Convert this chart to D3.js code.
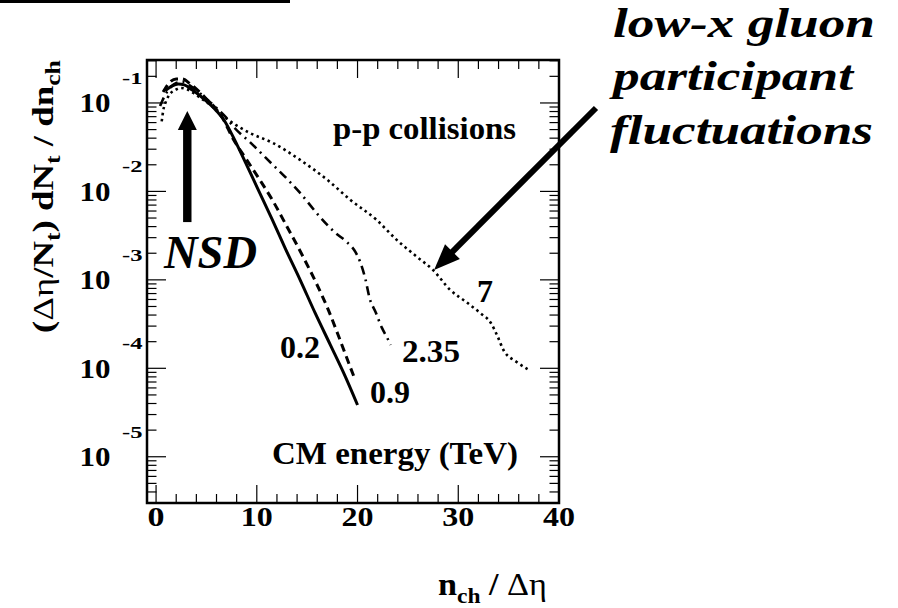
<!DOCTYPE html>
<html>
<head>
<meta charset="utf-8">
<script src="https://cdn.jsdelivr.net/npm/d3@7"></script>
<style>
  body { margin: 0; background: #fff; }
  text { font-family: "Liberation Serif", "Times New Roman", "DejaVu Serif", serif; font-weight: bold; fill: #000; }
</style>
</head>
<body>
<svg id="chart" width="898" height="608"></svg>
<script>
// Multiplicity distributions for p-p collisions at several CM energies
const xTickValues = [0, 10, 20, 30, 40];
const yDecadeExponents = [-1, -2, -3, -4, -5];
const energyLabels = ["0.2", "0.9", "2.35", "7"];

// 0.2 TeV (solid)
const n02 = [0.9, 1.6, 2.2, 2.8, 3.6, 4.4, 5.2, 6.0, 6.8, 7.5, 8.8, 10.1, 11.5, 12.8, 14.3, 15.8, 17.3, 18.8, 20.0];
const p02 = [0.137, 0.156, 0.164, 0.160, 0.140, 0.120, 0.100, 0.0813, 0.0625, 0.0447, 0.0221, 0.0107, 0.0049, 0.0023, 0.00100, 4.2e-4, 1.84e-4, 8.0e-5, 3.85e-5];

// 0.9 TeV (dashed)
const n09 = [0.7, 1.4, 2.0, 2.6, 3.4, 4.2, 5.0, 5.8, 6.6, 7.6, 9.0, 10.3, 11.6, 12.8, 14.6, 15.9, 17.1, 18.0, 18.9, 19.65];
const p09 = [0.133, 0.173, 0.187, 0.187, 0.164, 0.137, 0.111, 0.090, 0.0676, 0.0402, 0.0227, 0.0135, 0.0078, 0.0044, 0.00182, 9.2e-4, 4.57e-4, 2.51e-4, 1.34e-4, 8.0e-5];

// 2.35 TeV (dash-dot)
const n235 = [0.4, 0.9, 1.4, 2.0, 2.6, 3.4, 4.2, 5.0, 5.9, 6.9, 7.8, 9.3, 11.1, 13.1, 14.3, 16.3, 17.8, 18.9, 19.8, 20.3, 20.8, 21.2, 21.8, 22.4, 22.9, 23.3];
const p235 = [0.0925, 0.123, 0.148, 0.168, 0.173, 0.156, 0.133, 0.111, 0.090, 0.0695, 0.0521, 0.0362, 0.0227, 0.0135, 0.0096, 0.0051, 0.0034, 0.0027, 0.00206, 0.00155, 1.0e-3, 6.2e-4, 4.3e-4, 2.9e-4, 2.26e-4, 1.84e-4];

// 7 TeV (dotted)
const n7 = [0.56, 0.72, 1.0, 1.4, 1.9, 2.4, 3.0, 3.7, 4.4, 5.4, 6.3, 7.9, 9.3, 11.6, 14.3, 17.0, 19.3, 21.9, 23.9, 25.9, 27.5, 29.2, 30.9, 32.2, 33.2, 33.9, 34.5, 35.8, 37.0];
const p7 = [0.062, 0.083, 0.105, 0.127, 0.140, 0.148, 0.144, 0.130, 0.114, 0.095, 0.077, 0.0564, 0.0458, 0.0353, 0.0227, 0.0135, 0.0080, 0.00475, 0.00282, 0.00182, 0.00129, 7.7e-4, 5.5e-4, 4.2e-4, 3.3e-4, 2.3e-4, 1.6e-4, 1.18e-4, 9.6e-5];

const svg = d3.select("#chart");

const xDomain = [-0.9, 40];
const yDomain = [3e-6, 0.306];
const x = d3.scaleLinear().domain(xDomain).range([147, 559]);
const y = d3.scaleLog().domain(yDomain).range([503, 60]);

const [x0, x1] = x.range();
const [yb, yt] = y.range();

// separator bar at top
svg.append("rect").attr("x", 0).attr("y", 0).attr("width", 290).attr("height", 3).attr("fill", "#000");

svg.append("defs").append("clipPath").attr("id", "plotClip")
  .append("rect").attr("x", x0).attr("y", yt).attr("width", x1 - x0).attr("height", yb - yt);

// ---- curves ----
const series = [
  { n: n02, p: p02, dash: null, w: 3 },
  { n: n09, p: p09, dash: "8,5", w: 3 },
  { n: n235, p: p235, dash: "9,5,2,5", w: 2.6 },
  { n: n7, p: p7, dash: "2.5,3.5", w: 2.6 }
];
const line = d3.line().x(d => x(d[0])).y(d => y(d[1])).curve(d3.curveMonotoneX);
const curves = svg.append("g").attr("clip-path", "url(#plotClip)");
series.forEach(s => {
  curves.append("path")
    .attr("d", line(d3.zip(s.n, s.p)))
    .attr("fill", "none")
    .attr("stroke", "#000")
    .attr("stroke-width", s.w)
    .attr("stroke-dasharray", s.dash)
    .attr("stroke-linejoin", "round");
});

// ---- ticks on all four sides ----
const ticks = svg.append("g").attr("stroke", "#000").attr("stroke-width", 1.2);
const yTicks = [];
for (let d = -7; d <= 0; d++) {
  for (let m = 1; m <= 9; m++) {
    const v = m * Math.pow(10, d);
    if (v >= yDomain[0] && v <= yDomain[1]) yTicks.push({ v, major: m === 1 });
  }
}
yTicks.forEach(t => {
  const len = t.major ? 19 : 9.5;
  const py = y(t.v);
  ticks.append("line").attr("x1", x0).attr("x2", x0 + len).attr("y1", py).attr("y2", py);
  ticks.append("line").attr("x1", x1).attr("x2", x1 - len).attr("y1", py).attr("y2", py);
});
d3.range(0, 41, 2).forEach(v => {
  const len = v % 10 === 0 ? 18 : 9;
  const px = x(v);
  ticks.append("line").attr("x1", px).attr("x2", px).attr("y1", yb).attr("y2", yb - len);
  ticks.append("line").attr("x1", px).attr("x2", px).attr("y1", yt).attr("y2", yt + len);
});

// frame
svg.append("rect").attr("x", x0).attr("y", yt).attr("width", x1 - x0).attr("height", yb - yt)
  .attr("fill", "none").attr("stroke", "#000").attr("stroke-width", 2.5);

// ---- text helper: fixed drawn width ----
function label(str, px, py, size, width, italic) {
  const t = svg.append("text").attr("x", px).attr("y", py)
    .style("font-size", size + "px").text(str);
  if (italic) t.style("font-style", "italic");
  if (width) t.attr("textLength", width).attr("lengthAdjust", "spacingAndGlyphs");
  return t;
}

// x tick labels
xTickValues.forEach(v => {
  const w = v === 0 ? 17 : 32;
  label(String(v), x(v) - w / 2, 526, 27, w);
});

// y tick labels 10^k
yDecadeExponents.forEach(k => {
  const py = y(Math.pow(10, k));
  label("10", 79.5, py + 9.5, 27, 31);
  label(String(k), 122, py - 19, 17, 20.5);
});

// ---- axis titles ----
function fitText(textSel, target) {
  const w = textSel.node().getComputedTextLength();
  textSel.attr("transform", `scale(${target / w},1)`);
}

const yTitleG = svg.append("g").attr("transform", "translate(53,333) rotate(-90)");
const yTitle = yTitleG.append("text").attr("x", 0).attr("y", 0).style("font-size", "30px");
yTitle.append("tspan").text("(");
yTitle.append("tspan").style("font-weight", "normal").text("Δη");
yTitle.append("tspan").text("/N");
yTitle.append("tspan").attr("dy", 7).style("font-size", "21px").text("t");
yTitle.append("tspan").attr("dy", -7).text(") dN");
yTitle.append("tspan").attr("dy", 7).style("font-size", "21px").text("t");
yTitle.append("tspan").attr("dy", -7).text(" / dn");
yTitle.append("tspan").attr("dy", 7).style("font-size", "21px").text("ch");
fitText(yTitle, 273);

const xTitleG = svg.append("g").attr("transform", "translate(438,595)");
const xTitle = xTitleG.append("text").attr("x", 0).attr("y", 0).style("font-size", "32px");
xTitle.append("tspan").text("n");
xTitle.append("tspan").attr("dy", 8).style("font-size", "22px").text("ch");
xTitle.append("tspan").attr("dy", -8).text(" / ");
xTitle.append("tspan").style("font-weight", "normal").text("Δη");
fitText(xTitle, 109);

// ---- annotations inside the frame ----
label("p-p collisions", 333, 139, 32, 183);
label("CM energy (TeV)", 272, 464, 32, 246);
label(energyLabels[0], 280, 358, 32, 40);
label(energyLabels[1], 370, 403, 32, 40);
label(energyLabels[2], 402, 362, 32, 58);
label(energyLabels[3], 477, 302, 32, 16);
label("NSD", 164, 268, 46, 93, true);

// NSD arrow (vertical, pointing at the peak)
const nsdX = x(3.1);
const nsdTip = y(0.081), nsdBase = y(0.0045);
const headLen = 19, headHalf = 9.5;
svg.append("rect").attr("x", nsdX - 4.2).attr("y", nsdTip + headLen - 1)
  .attr("width", 8.4).attr("height", nsdBase - nsdTip - headLen + 1).attr("fill", "#000");
svg.append("path")
  .attr("d", `M${nsdX},${nsdTip} L${nsdX - headHalf},${nsdTip + headLen} L${nsdX + headHalf},${nsdTip + headLen} Z`)
  .attr("fill", "#000");

// gluon-fluctuation arrow, tip on the 7 TeV curve
const gTipX = x(27.6), gTipY = y(0.00129);
const gTailX = 596, gTailY = 108;
const dx = gTipX - gTailX, dy = gTipY - gTailY, L = Math.hypot(dx, dy);
const ux = dx / L, uy = dy / L;
const gHead = 26, gHalf = 10.5;
const bx = gTipX - ux * gHead, by = gTipY - uy * gHead;
svg.append("line").attr("x1", gTailX).attr("y1", gTailY).attr("x2", bx + ux * 2).attr("y2", by + uy * 2)
  .attr("stroke", "#000").attr("stroke-width", 6);
svg.append("path")
  .attr("d", `M${gTipX},${gTipY} L${bx - uy * gHalf},${by + ux * gHalf} L${bx + uy * gHalf},${by - ux * gHalf} Z`)
  .attr("fill", "#000");

// side caption
label("low-x gluon", 613, 37, 42, 262, true);
label("participant", 613, 90, 42, 240, true);
label("fluctuations", 610, 144, 42, 263, true);
</script>
</body>
</html>
